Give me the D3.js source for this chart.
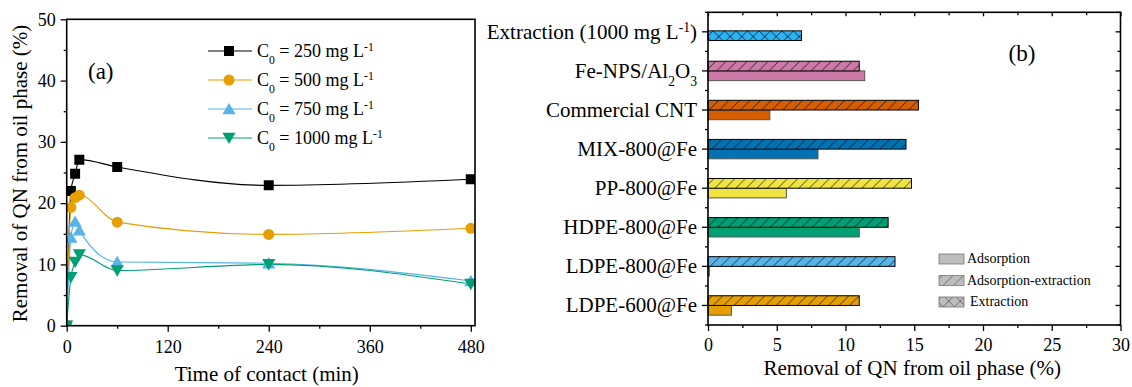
<!DOCTYPE html>
<html>
<head>
<meta charset="utf-8">
<script src="https://cdn.jsdelivr.net/npm/d3@7"></script>
<style>
  body { margin: 0; background: #fff; }
  svg, svg text { font-family: "Liberation Serif", "Times New Roman", serif; }
</style>
</head>
<body>
<svg id="chart" width="1132" height="387"></svg>
<script>
// ---- panel (a) data ----
const times = [0, 5, 10, 15, 60, 240, 480];
const c250 = [0, 22.0, 24.8, 27.1, 25.9, 22.9, 23.9];
const c500 = [0, 19.3, 20.9, 21.3, 16.9, 14.9, 15.9];
const c750 = [0, 14.4, 17.0, 15.6, 10.4, 10.2, 7.3];
const c1000 = [0, 7.9, 10.4, 11.6, 9.0, 10.0, 6.8];
const seriesLabels = ['250', '500', '750', '1000'];
const xTicksA = [0, 120, 240, 360, 480];
const yTicksA = [0, 10, 20, 30, 40, 50];

// ---- panel (b) data ----
const materials = ['Extraction', 'Fe-NPS/Al2O3', 'Commercial CNT', 'MIX-800@Fe',
  'PP-800@Fe', 'HDPE-800@Fe', 'LDPE-800@Fe', 'LDPE-600@Fe'];
const adsExtraction = [null, 11.0, 15.3, 14.4, 14.8, 13.1, 13.6, 11.0];
const adsorption = [null, 11.4, 4.5, 8.0, 5.7, 11.0, 0.1, 1.7];
const extractionOnly = [6.8, null, null, null, null, null, null, null];
const barColors = ['#2BB3F3', '#CC79A7', '#D55E00', '#0072B2', '#F0E442', '#009E73', '#56B4E9', '#E69F00'];
const xTicksB = [0, 5, 10, 15, 20, 25, 30];

const svg = d3.select('#chart');
const FONT = '"Liberation Serif", "Times New Roman", serif';
const FS = 21;   // titles, category labels
const TS = 18;   // tick labels
const LS = 18;   // legend (a)

function styleAxis(g) {
  g.attr('font-family', FONT).attr('font-size', null);
  g.selectAll('.domain').remove();
  g.selectAll('.tick text').attr('font-size', TS).attr('fill', '#000').attr('font-family', FONT);
  g.selectAll('.tick line').attr('stroke', '#000').attr('stroke-width', 1.3);
}

// ================= Panel (a) =================
const xA = d3.scaleLinear().domain([0, 485]).range([66.7, 475]);
const yA = d3.scaleLinear().domain([0, 50]).range([325.7, 19.3]);

const gA = svg.append('g');
gA.append('clipPath').attr('id', 'clipA').append('rect')
  .attr('x', xA(0)).attr('y', yA(50)).attr('width', xA(485) - xA(0)).attr('height', yA(0) - yA(50));

const seriesA = [
  { vals: c250, color: '#000000', sym: d3.symbolSquare, size: 100, rot: 0 },
  { vals: c500, color: '#E69F00', sym: d3.symbolCircle, size: 95, rot: 0 },
  { vals: c750, color: '#56B4E9', sym: d3.symbolTriangle, size: 75, rot: 0 },
  { vals: c1000, color: '#009E73', sym: d3.symbolTriangle, size: 75, rot: 180 }
];
const symOffset = s => (s.sym === d3.symbolTriangle ? (s.rot ? -1.5 : 1.5) : 0);

const line = d3.line().x(d => xA(d[0])).y(d => yA(d[1])).curve(d3.curveMonotoneX);
const plotA = gA.append('g').attr('clip-path', 'url(#clipA)');
seriesA.forEach(s => {
  const pts = times.map((t, i) => [t, s.vals[i]]);
  plotA.append('path').attr('d', line(pts)).attr('fill', 'none')
    .attr('stroke', s.color).attr('stroke-width', 1.1);
});
seriesA.forEach(s => {
  const pts = times.map((t, i) => [t, s.vals[i]]);
  plotA.selectAll(null).data(pts).enter().append('path')
    .attr('d', d3.symbol().type(s.sym).size(s.size)())
    .attr('transform', d => `translate(${xA(d[0])},${yA(d[1]) + symOffset(s)}) rotate(${s.rot})`)
    .attr('fill', s.color);
});

// axes (a)
gA.append('g').attr('transform', `translate(0,${yA(0)})`)
  .call(d3.axisBottom(xA).tickValues(xTicksA).tickSize(6).tickPadding(9).tickFormat(d3.format('d')))
  .call(styleAxis);
gA.append('g').attr('transform', `translate(0,${yA(0)})`)
  .call(d3.axisBottom(xA).tickValues([60, 180, 300, 420]).tickSize(3).tickFormat(''))
  .call(styleAxis);
gA.append('g').attr('transform', `translate(${xA(0)},0)`)
  .call(d3.axisLeft(yA).tickValues(yTicksA).tickSize(6).tickPadding(5))
  .call(styleAxis);
gA.append('g').attr('transform', `translate(${xA(0)},0)`)
  .call(d3.axisLeft(yA).tickValues([5, 15, 25, 35, 45]).tickSize(3).tickFormat(''))
  .call(styleAxis);
gA.append('rect').attr('x', xA(0)).attr('y', yA(50))
  .attr('width', xA(485) - xA(0)).attr('height', yA(0) - yA(50))
  .attr('fill', 'none').attr('stroke', '#000').attr('stroke-width', 1.6);

gA.append('text').attr('x', 88).attr('y', 79).attr('font-size', 23).text('(a)');
gA.append('text').attr('x', xA(240) - 2).attr('y', 381).attr('text-anchor', 'middle')
  .attr('font-size', FS).text('Time of contact (min)');
gA.append('text').attr('transform', `translate(27,${(yA(0) + yA(50)) / 2 + 1}) rotate(-90)`)
  .attr('text-anchor', 'middle').attr('font-size', FS).text('Removal of QN from oil phase (%)');

// legend (a)
const legA = gA.append('g');
seriesA.forEach((s, i) => {
  const y = 51 + i * 29;
  legA.append('line').attr('x1', 208).attr('x2', 252).attr('y1', y).attr('y2', y)
    .attr('stroke', s.color).attr('stroke-width', 1.1);
  legA.append('path').attr('d', d3.symbol().type(s.sym).size(s.size)())
    .attr('transform', `translate(229,${y + symOffset(s)}) rotate(${s.rot})`)
    .attr('fill', s.color);
  const t = legA.append('text').attr('x', 257).attr('y', y + 6).attr('font-size', LS);
  t.append('tspan').text('C');
  t.append('tspan').attr('baseline-shift', 'sub').attr('font-size', LS * 0.65).text('0');
  t.append('tspan').text(` = ${seriesLabels[i]} mg L`);
  t.append('tspan').attr('baseline-shift', 'super').attr('font-size', LS * 0.65).text('-1');
});

// ================= Panel (b) =================
const xB = d3.scaleLinear().domain([0, 30]).range([708, 1120.5]);
const yB = d3.scaleBand().domain(materials).range([12.3, 325]);
const bh = 9.7;
const gB = svg.append('g');

const defs = svg.append('defs');
defs.append('pattern').attr('id', 'hatch').attr('patternUnits', 'userSpaceOnUse')
  .attr('width', 10.5).attr('height', 10.5)
  .append('path').attr('d', 'M-1,11.5 L11.5,-1 M-3,3 L3,-3 M7.5,13.5 L13.5,7.5')
  .attr('stroke', '#000').attr('stroke-width', 0.7);
const cross = defs.append('pattern').attr('id', 'cross').attr('patternUnits', 'userSpaceOnUse')
  .attr('width', 11.5).attr('height', 11.5).attr('y', yB.bandwidth() / 2 + 12.3 - 1);
cross.append('path').attr('d', 'M0,0 L11.5,11.5 M0,11.5 L11.5,0')
  .attr('stroke', '#000').attr('stroke-width', 0.7);

const center = d => yB(d) + yB.bandwidth() / 2;

function bars(vals, offset, pattern, stroke) {
  const data = materials.map((m, i) => ({ m, v: vals[i], c: barColors[i] })).filter(d => d.v !== null);
  const g = gB.append('g');
  g.selectAll(null).data(data).enter().append('rect')
    .attr('x', xB(0)).attr('y', d => center(d.m) + offset)
    .attr('width', d => xB(d.v) - xB(0)).attr('height', bh)
    .attr('fill', d => d.c);
  if (pattern) {
    g.selectAll(null).data(data).enter().append('rect')
      .attr('x', xB(0)).attr('y', d => center(d.m) + offset)
      .attr('width', d => xB(d.v) - xB(0)).attr('height', bh)
      .attr('fill', `url(#${pattern})`);
  }
  g.selectAll(null).data(data).enter().append('rect')
    .attr('x', xB(0)).attr('y', d => center(d.m) + offset)
    .attr('width', d => xB(d.v) - xB(0)).attr('height', bh)
    .attr('fill', 'none').attr('stroke', stroke).attr('stroke-width', 1);
}
bars(adsorption, 0, null, '#555');
bars(adsExtraction, -bh, 'hatch', '#000');
bars(extractionOnly, -1, 'cross', '#000');

// axes (b)
const minorX = [2.5, 7.5, 12.5, 17.5, 22.5, 27.5];
gB.append('g').attr('transform', `translate(0,${yB.range()[1]})`)
  .call(d3.axisBottom(xB).tickValues(xTicksB).tickSize(6).tickPadding(7))
  .call(styleAxis);
gB.append('g').attr('transform', `translate(0,${yB.range()[1]})`)
  .call(d3.axisBottom(xB).tickValues(minorX).tickSize(3).tickFormat(''))
  .call(styleAxis);
gB.append('g').attr('transform', `translate(0,${yB.range()[0]})`)
  .call(d3.axisBottom(xB).tickValues(xTicksB).tickSize(4).tickFormat(''))
  .call(styleAxis);
gB.append('g').attr('transform', `translate(0,${yB.range()[0]})`)
  .call(d3.axisBottom(xB).tickValues(minorX).tickSize(3).tickFormat(''))
  .call(styleAxis);
gB.append('g').attr('transform', `translate(${xB(0)},0)`)
  .call(d3.axisLeft(yB).tickSize(6).tickFormat(''))
  .call(styleAxis);
const minorB = yB.domain().map(d => yB(d)).concat([yB.range()[1]]);
gB.append('g').selectAll(null).data(minorB).enter().append('line')
  .attr('x1', xB(0) - 3).attr('x2', xB(0)).attr('y1', d => d).attr('y2', d => d)
  .attr('stroke', '#000').attr('stroke-width', 1.3);
gB.append('g').selectAll(null).data(minorB).enter().append('line')
  .attr('x1', xB(30) - 3).attr('x2', xB(30)).attr('y1', d => d).attr('y2', d => d)
  .attr('stroke', '#000').attr('stroke-width', 1.3);
gB.append('g').selectAll(null).data(materials).enter().append('line')
  .attr('x1', xB(30) - 5).attr('x2', xB(30)).attr('y1', d => center(d)).attr('y2', d => center(d))
  .attr('stroke', '#000').attr('stroke-width', 1.3);
gB.append('rect').attr('x', xB(0)).attr('y', yB.range()[0])
  .attr('width', xB(30) - xB(0)).attr('height', yB.range()[1] - yB.range()[0])
  .attr('fill', 'none').attr('stroke', '#000').attr('stroke-width', 1.6);

// category labels
materials.forEach(m => {
  const t = gB.append('text').attr('x', 697).attr('y', center(m) + 7)
    .attr('text-anchor', 'end').attr('font-size', FS);
  if (m === 'Extraction') {
    t.append('tspan').text('Extraction (1000 mg L');
    t.append('tspan').attr('baseline-shift', 'super').attr('font-size', FS * 0.65).text('-1');
    t.append('tspan').text(')');
  } else if (m === 'Fe-NPS/Al2O3') {
    t.append('tspan').text('Fe-NPS/Al');
    t.append('tspan').attr('baseline-shift', 'sub').attr('font-size', FS * 0.65).text('2');
    t.append('tspan').text('O');
    t.append('tspan').attr('baseline-shift', 'sub').attr('font-size', FS * 0.65).text('3');
  } else {
    t.text(m);
  }
});

gB.append('text').attr('x', xB(15) - 2).attr('y', 375).attr('text-anchor', 'middle')
  .attr('font-size', FS).text('Removal of QN from oil phase (%)');
gB.append('text').attr('x', 1022).attr('y', 61).attr('text-anchor', 'middle')
  .attr('font-size', 23).text('(b)');

// legend (b)
const legB = [['Adsorption', null], ['Adsorption-extraction', 'hatch'], ['Extraction', 'cross']];
legB.forEach((d, i) => {
  const y = 254 + i * 21.5;
  gB.append('rect').attr('x', 939).attr('y', y).attr('width', 25).attr('height', 10).attr('fill', '#BDBDBD');
  if (d[1]) gB.append('rect').attr('x', 939).attr('y', y).attr('width', 25).attr('height', 10)
    .attr('fill', `url(#${d[1]})`).attr('opacity', 0.6);
  gB.append('rect').attr('x', 939).attr('y', y).attr('width', 25).attr('height', 10)
    .attr('fill', 'none').attr('stroke', '#777').attr('stroke-width', 0.8);
  gB.append('text').attr('x', i === 2 ? 970 : 967).attr('y', y + 9).attr('font-size', 14).text(d[0]);
});
</script>
</body>
</html>
